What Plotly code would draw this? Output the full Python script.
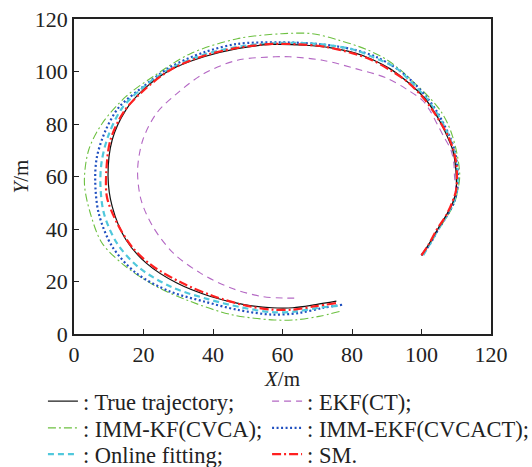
import plotly.graph_objects as go

# True trajectory
true_x = [100, 102, 104.7, 107, 109, 110, 110, 109.7, 109, 107.5, 105.7, 103.5, 100.8, 96, 91, 86, 81, 74, 66.6, 57, 47, 37.4, 27.6, 19.8, 14.9, 11, 9.8, 11, 14.9, 20.8, 29.6, 39.3, 49, 57, 63, 69.6, 75.5]
true_y = [30, 34, 40, 45, 50, 55, 60, 65, 70, 75, 80, 85, 90, 96, 101, 104.5, 107, 109, 110, 110.3, 108.7, 105.6, 100.5, 92.9, 85.3, 74, 60, 48.5, 36, 27, 19.4, 14.3, 11.2, 10, 10, 11.2, 12.5]

# EKF(CT)
ekf_x = [100, 102.3, 104.8, 107.2, 109, 109.8, 109.5, 109.3, 108.5, 106.5, 104.5, 102.5, 100.3, 96, 90, 81.3, 71.5, 62, 57.9, 47, 37.4, 29.6, 23.7, 19.8, 18.3, 19.3, 22.7, 28.6, 36.4, 45.2, 54, 60, 64.7]
ekf_y = [30, 34, 40, 45, 50, 55, 60, 65, 70, 75, 80, 85, 89, 93, 97.5, 101, 104.3, 105.6, 105.6, 104.3, 99.2, 91.6, 84, 73.9, 62.5, 51.1, 40.9, 30.8, 23.2, 17.5, 14.3, 13.7, 13.7]

# IMM-KF(CVCA)
immkf_x = [100, 102.3, 105, 107.5, 109.5, 110.5, 111, 110.7, 110, 109, 107.6, 105.5, 102.7, 98.5, 94, 90, 84, 76, 68.6, 59.8, 47, 33.5, 22.7, 14.9, 8.1, 4.2, 3, 4.7, 8.1, 14.9, 23.7, 33.5, 45.2, 56.9, 63.7, 70.5, 76.4]
immkf_y = [30, 34, 40, 45, 50, 55, 60, 65, 70, 75, 80, 85, 89.5, 95, 100.5, 104.5, 108.5, 112, 114.4, 114.4, 112.5, 106.8, 98, 90.4, 80.2, 70, 57.4, 46, 34.6, 25.7, 18.1, 12.4, 7.4, 5.4, 5.4, 6.7, 8.6]

# IMM-EKF(CVCACT)
immekf_x = [100, 102.3, 104.9, 107.3, 109.3, 110.3, 110.5, 110.2, 109.5, 108.2, 106.4, 104.3, 101.6, 97.5, 93, 87, 80, 70, 58.8, 47, 37.4, 27.6, 19.8, 13, 9.1, 6.6, 6.1, 7.1, 11, 17.9, 27.6, 37.4, 47.1, 56.9, 64.7, 71.5, 77.4]
immekf_y = [30, 34, 40, 45, 50, 55, 60, 65, 70, 75, 80, 85, 90, 96, 101, 105.5, 108.5, 110.5, 111.1, 110.5, 107.3, 101.6, 94.1, 86.5, 77.6, 67.5, 58.6, 46, 33.3, 23.2, 16.2, 12.4, 9.2, 7.4, 8, 9.9, 11.2]

# Online fitting
online_x = [100.5, 102.3, 104.9, 107.2, 109.2, 110.2, 110.4, 110, 109.3, 108, 106.2, 104, 101.3, 97, 92.5, 86, 80, 70, 59, 48, 37.5, 27.6, 19.5, 13.8, 10, 8, 7.6, 8.6, 12.4, 18.8, 28.2, 38.5, 48, 57, 64, 70.5, 76.5]
online_y = [30, 34, 40, 45, 50, 55, 60, 65, 70, 75, 80, 85, 90, 96, 101.5, 105.5, 108.5, 110.5, 110.9, 109.6, 106.5, 101, 93.5, 86, 76, 66, 57, 46, 34.5, 25.2, 17.8, 13.3, 10.2, 8.3, 8.6, 10, 10.8]

# SM
sm_x = [100, 102, 104.5, 107, 108.8, 110, 110.2, 110, 109.2, 107.8, 105.7, 103.3, 100.5, 96, 91, 85.5, 80, 72, 65, 57, 47, 37.4, 27.6, 19.8, 14.5, 10.5, 9.3, 9.5, 12.5, 16.8, 22.5, 31, 40, 49.5, 57, 63, 69.6, 75.5]
sm_y = [30, 34, 40, 45, 50, 55, 60, 65, 70, 75, 80, 85, 90, 96, 100.5, 104.5, 107, 109.5, 110.3, 110.5, 109, 106, 100.5, 92.5, 85, 74, 62, 52, 42, 33, 26, 19.5, 14.5, 10.8, 9.3, 9.3, 10.6, 11.8]

ticks = [0, 20, 40, 60, 80, 100, 120]

# legend slots: (column left, row top) in paper coordinates
col_x = [-0.0745, 0.463]
row_y = [-0.146, -0.231, -0.314]

series = [
    # name, x, y, color, width, dash, legend id, (col, row)
    (": EKF(CT);", ekf_x, ekf_y, "#b468c4", 1.1, "7px,5px", "legend2", (1, 0)),
    (": IMM-KF(CVCA);", immkf_x, immkf_y, "#6cc040", 1.1, "8px,3px,2px,3px", "legend3", (0, 1)),
    (": IMM-EKF(CVCACT);", immekf_x, immekf_y, "#2050c0", 2.2, "2px,2.5px", "legend4", (1, 1)),
    (": Online fitting;", online_x, online_y, "#50c8dc", 2.2, "6px,4px", "legend5", (0, 2)),
    (": True trajectory;", true_x, true_y, "#111111", 1.2, "solid", "legend", (0, 0)),
    (": SM.", sm_x, sm_y, "#ff2020", 2.2, "9px,3px,2px,3px", "legend6", (1, 2)),
]

font_family = "Liberation Serif, Times New Roman, serif"

fig = go.Figure()
legends = {}
for name, xs, ys, color, width, dash, leg, (c, r) in series:
    fig.add_trace(go.Scatter(
        x=xs, y=ys, mode="lines", name=name, legend=leg,
        line=dict(color=color, width=width, dash=dash, shape="spline", smoothing=0.9),
    ))
    legends[leg] = dict(
        x=col_x[c], xanchor="left", y=row_y[r], yanchor="top",
        itemwidth=30, tracegroupgap=0,
        font=dict(family=font_family, size=22.5, color="#222222"),
        bgcolor="rgba(0,0,0,0)",
    )

fig.update_layout(
    width=532, height=467,
    margin=dict(l=74, r=41, t=19, b=133, autoexpand=False),
    paper_bgcolor="white", plot_bgcolor="white",
    font=dict(family=font_family, size=22, color="#222222"),
    showlegend=True,
    **legends,
    xaxis=dict(
        range=[0, 120], tickvals=ticks, ticks="inside", ticklen=5,
        tickcolor="#222222", showline=True, linecolor="#222222", linewidth=1.5,
        mirror=True, showgrid=False, zeroline=False, automargin=False,
        title=dict(text="<i>X</i>/m", standoff=0, font=dict(size=21)),
    ),
    yaxis=dict(
        range=[0, 120], tickvals=ticks, ticks="inside", ticklen=5,
        tickcolor="#222222", showline=True, linecolor="#222222", linewidth=1.5,
        mirror=True, showgrid=False, zeroline=False, automargin=False,
        title=dict(text="<i>Y</i>/m", standoff=0, font=dict(size=21)),
    ),
)

fig.write_html("out.html")
